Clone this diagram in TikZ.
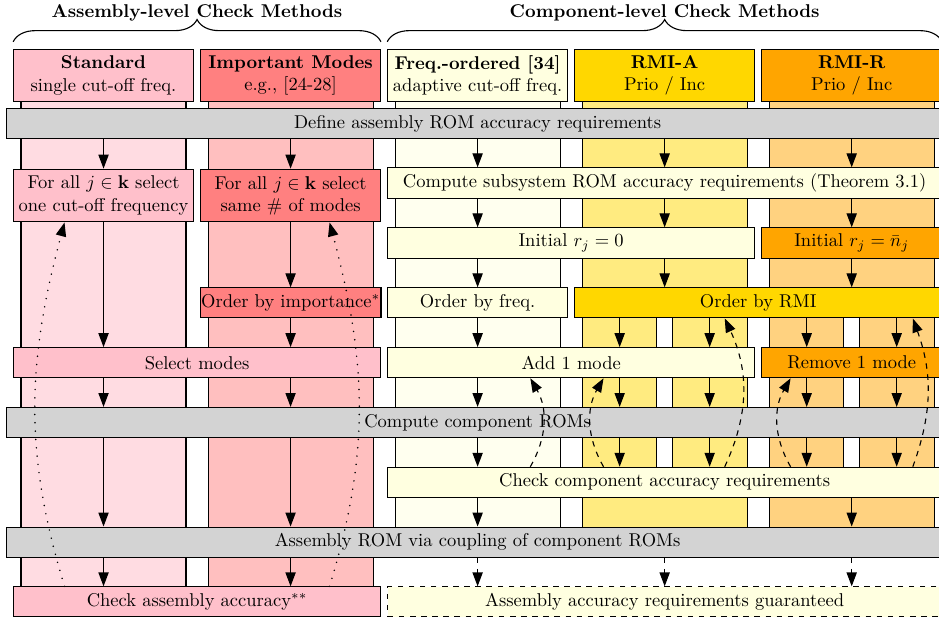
\documentclass[tikz,border=0pt]{standalone}
\usepackage{amsmath,amssymb}
\usetikzlibrary{arrows.meta,decorations.pathreplacing}

\definecolor{stdpink}{HTML}{FFC0CB}
\definecolor{impred}{HTML}{FF8080}
\definecolor{freqyellow}{HTML}{FFFFE0}
\definecolor{rmigold}{HTML}{FFD700}
\definecolor{rmiorange}{HTML}{FFA500}
\definecolor{bargray}{HTML}{D3D3D3}

\tikzset{
    head/.style={draw, minimum width=3.41cm, minimum height=1cm, align=center, inner xsep=1pt},
    stepbox/.style={draw, minimum height=0.57cm, inner xsep=0.5pt, align=center},
    bar/.style={stepbox, fill=bargray, minimum width=17.9cm},
    arr/.style={-{Triangle[length=7.5pt,width=5.5pt]}},
    dasharr/.style={arr, dashed},
    dotarr/.style={arr, dash pattern=on 0pt off 4.5pt, line cap=round, line width=0.9pt},
    brc/.style={decorate, decoration={brace, amplitude=12pt}},
}

\begin{document}
\begin{tikzpicture}[semithick]
\useasboundingbox (0,0) rectangle (17.822,-11.786);

% ---- lanes ----
\foreach \c/\col/\bot in {1.965/stdpink!55/-11.141, 5.515/impred!50/-11.141,
    9.065/freqyellow!50/-10.57, 12.615/rmigold!50/-10.57, 16.165/rmiorange!50/-10.57} {
    \draw[fill=\col] (\c-1.566,-1.433) rectangle (\c+1.566,\bot);
}
% split lanes for RMI
\foreach \c in {12.615,16.165} {
    \draw[fill=white] (\c-0.152,-5.9) rectangle (\c+0.152,-9.0);
}

% ---- headers ----
\node[head, fill=stdpink] (hS) at (1.965,-1.433) {\textbf{Standard}\\single cut-off freq.};
\node[head, fill=impred] (hI) at (5.515,-1.433) {\textbf{Important Modes}\\e.g., [24-28]};
\node[head, fill=freqyellow] (hF) at (9.065,-1.433) {\textbf{Freq.-ordered [34]}\\adaptive cut-off freq.};
\node[head, fill=rmigold] (hA) at (12.615,-1.433) {\textbf{RMI-A}\\Prio / Inc};
\node[head, fill=rmiorange] (hR) at (16.165,-1.433) {\textbf{RMI-R}\\Prio / Inc};

\draw[brc] ([yshift=0.13cm]hS.north west) -- ([yshift=0.13cm]hI.north east);
\node[font=\bfseries] (tAsm) at (3.74,-0.25) {Assembly-level Check Methods};
\draw[brc] ([yshift=0.13cm]hF.north west) -- ([yshift=0.13cm]hR.north east);
\node[font=\bfseries] (tCmp) at (12.615,-0.25) {Component-level Check Methods};

% ---- steps ----
\node[bar] (define) at (9.065,-2.344) {Define assembly ROM accuracy requirements};
\node[head, fill=stdpink] (forS) at (1.965,-3.711) {For all $j \in \mathbf{k}$ select\\one cut-off frequency};
\node[head, fill=impred] (forI) at (5.515,-3.711) {For all $j \in \mathbf{k}$ select\\same \# of modes};
\node[stepbox, fill=freqyellow, minimum width=10.51cm] (sub) at (12.615,-3.479) {Compute subsystem ROM accuracy requirements (Theorem 3.1)};
\node[stepbox, fill=freqyellow, minimum width=6.96cm] (init0) at (10.84,-4.614) {Initial $r_j = 0$};
\node[stepbox, fill=rmiorange, minimum width=3.41cm] (initR) at (16.165,-4.614) {Initial $r_j = \bar{n}_j$};
\node[stepbox, fill=impred, minimum width=3.41cm] (ordI) at (5.515,-5.749) {Order by importance$^*$};
\node[stepbox, fill=freqyellow, minimum width=3.41cm] (ordF) at (9.065,-5.749) {Order by freq.};
\node[stepbox, fill=rmigold, minimum width=6.96cm] (ordRMI) at (14.39,-5.749) {Order by RMI};
\node[stepbox, fill=stdpink, minimum width=6.96cm] (sel) at (3.74,-6.884) {Select modes};
\node[stepbox, fill=freqyellow, minimum width=6.96cm] (add) at (10.84,-6.884) {Add 1 mode};
\node[stepbox, fill=rmiorange, minimum width=3.41cm] (rem) at (16.165,-6.884) {Remove 1 mode};
\node[bar] (comp) at (9.065,-8.019) {Compute component ROMs};
\node[stepbox, fill=freqyellow, minimum width=10.51cm] (chk) at (12.615,-9.154) {Check component accuracy requirements};
\node[bar] (asm) at (9.065,-10.289) {Assembly ROM via coupling of component ROMs};
\node[stepbox, fill=stdpink, minimum width=6.96cm] (chkA) at (3.74,-11.424) {Check assembly accuracy$^{**}$};
\node[stepbox, fill=freqyellow, dashed, minimum width=10.51cm] (guar) at (12.615,-11.424) {Assembly accuracy requirements guaranteed};

% x positions of sub-lanes and loops
\coordinate (a1) at (11.761,0);
\coordinate (a2) at (13.469,0);
\coordinate (r1) at (15.311,0);
\coordinate (r2) at (17.019,0);
\coordinate (lF) at (10.065,0);
\coordinate (lA1) at (11.455,0);
\coordinate (lA2) at (13.755,0);
\coordinate (lR1) at (15.005,0);
\coordinate (lR2) at (17.325,0);
\coordinate (dS) at (1.225,0);
\coordinate (dI) at (6.255,0);

% ---- Standard ----
\draw[arr] (define.south -| hS) -- (forS);
\draw[arr] (forS) -- (sel.north -| forS);
\draw[arr] (sel.south -| hS) -- (comp.north -| hS);
\draw[arr] (comp.south -| hS) -- (asm.north -| hS);
\draw[arr] (asm.south -| hS) -- (chkA.north -| hS);

% ---- Important modes ----
\draw[arr] (define.south -| hI) -- (forI);
\draw[arr] (forI) -- (ordI);
\draw[arr] (ordI) -- (sel.north -| ordI);
\draw[arr] (sel.south -| hI) -- (comp.north -| hI);
\draw[arr] (comp.south -| hI) -- (asm.north -| hI);
\draw[arr] (asm.south -| hI) -- (chkA.north -| hI);

% ---- Freq.-ordered ----
\draw[arr] (define.south -| hF) -- (sub.north -| hF);
\draw[arr] (sub.south -| hF) -- (init0.north -| hF);
\draw[arr] (init0.south -| hF) -- (ordF);
\draw[arr] (ordF) -- (add.north -| ordF);
\draw[arr] (add.south -| hF) -- (comp.north -| hF);
\draw[arr] (comp.south -| hF) -- (chk.north -| hF);
\draw[arr] (chk.south -| hF) -- (asm.north -| hF);
\draw[dasharr] (asm.south -| hF) -- (guar.north -| hF);

% ---- RMI-A / RMI-R ----
\foreach \h in {hA,hR} {
    \draw[arr] (define.south -| \h) -- (sub.north -| \h);
    \draw[dasharr] (asm.south -| \h) -- (guar.north -| \h);
}
\draw[arr] (sub.south -| hA) -- (init0.north -| hA);
\draw[arr] (init0.south -| hA) -- (ordRMI.north -| hA);
\draw[arr] (sub.south -| hR) -- (initR);
\draw[arr] (initR) -- (ordRMI.north -| initR);
\foreach \x/\b in {a1/add, a2/add, r1/rem, r2/rem} {
    \draw[arr] (ordRMI.south -| \x) -- (\b.north -| \x);
    \draw[arr] (\b.south -| \x) -- (comp.north -| \x);
    \draw[arr] (comp.south -| \x) -- (chk.north -| \x);
}
\draw[arr] (chk.south -| hR) -- (asm.north -| hR);

% ---- loops ----
\draw[dasharr] (chk.north -| lF) to[out=60,in=-60] (add.south -| lF);
\draw[dasharr] (chk.north -| lA1) to[out=120,in=-120] (add.south -| lA1);
\draw[dasharr] (chk.north -| lA2) to[out=65,in=-65] (ordRMI.south -| lA2);
\draw[dasharr] (chk.north -| lR1) to[out=120,in=-120] (rem.south -| lR1);
\draw[dasharr] (chk.north -| lR2) to[out=70,in=-70] (ordRMI.south -| lR2);
\draw[dotarr] (chkA.north -| dS) to[out=107,in=-105] (forS.south -| dS);
\draw[dotarr] (chkA.north -| dI) to[out=73,in=-75] (forI.south -| dI);

\end{tikzpicture}
\end{document}
